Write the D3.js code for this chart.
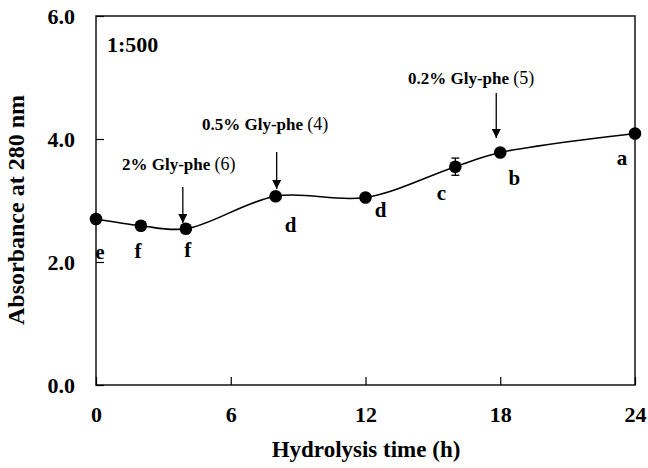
<!DOCTYPE html>
<html><head><meta charset="utf-8">
<script src="https://cdn.jsdelivr.net/npm/d3@7"></script>
<style>body{margin:0;background:#fff}</style>
</head><body>
<svg id="c" width="648" height="468"></svg>
<script>
const hours = [0, 2, 4, 8, 12, 16, 18, 24];
const absorbance = [2.70, 2.59, 2.54, 3.07, 3.05, 3.55, 3.78, 4.09];
const errors = [0, 0, 0, 0, 0, 0.14, 0, 0];
const letters = ["e", "f", "f", "d", "d", "c", "b", "a"];
const letterOffsets = [[4, 40], [-3, 32], [2, 28], [15, 36], [15, 20], [-14, 33], [14, 32], [-13, 32]];
const xTicks = [0, 6, 12, 18, 24];
const yTicks = [0, 2, 4, 6];
const annotations = [
  {x: 4, label: "2% Gly-phe", num: "(6)", tx: 122, ty: 170, dx: -3, y1: 187, y2: 223},
  {x: 8, label: "0.5% Gly-phe", num: "(4)", tx: 202, ty: 130, dx: 1, y1: 152, y2: 189},
  {x: 18, label: "0.2% Gly-phe", num: "(5)", tx: 408, ty: 84, dx: -4, y1: 93, y2: 138}
];

const svg = d3.select("#c");
const L = 96, R = 635, T = 16, B = 385;
const x = d3.scaleLinear().domain([0, 24]).range([L, R]);
const y = d3.scaleLinear().domain([0, 6]).range([B, T]);
const font = "'Liberation Serif', 'Times New Roman', serif";

svg.append("rect").attr("x", L).attr("y", T).attr("width", R - L).attr("height", B - T)
  .attr("fill", "none").attr("stroke", "#222").attr("stroke-width", 1.6);

const gx = svg.append("g").attr("transform", `translate(0,${B})`)
  .call(d3.axisTop(x).tickValues(xTicks).tickSize(8).tickFormat(d3.format("d")));
gx.select(".domain").remove();
gx.selectAll("line").attr("stroke-width", 1.2);
gx.selectAll("text").attr("y", 37).attr("dy", "0").style("font-family", font)
  .style("font-weight", "bold").style("font-size", "22px").attr("fill", "#000");

const gy = svg.append("g").attr("transform", `translate(${L},0)`)
  .call(d3.axisRight(y).tickValues(yTicks).tickSize(8).tickFormat(d3.format(".1f")));
gy.select(".domain").remove();
gy.selectAll("line").attr("stroke-width", 1.2);
gy.selectAll("text").attr("x", -21).attr("text-anchor", "end").style("font-family", font)
  .style("font-weight", "bold").style("font-size", "22px").attr("fill", "#000");

svg.append("text").attr("x", 366).attr("y", 457).attr("text-anchor", "middle")
  .style("font-family", font).style("font-weight", "bold").style("font-size", "23px")
  .text("Hydrolysis time (h)");
svg.append("text").attr("transform", "translate(24,210) rotate(-90)").attr("text-anchor", "middle")
  .style("font-family", font).style("font-weight", "bold").style("font-size", "24px")
  .text("Absorbance at 280 nm");
svg.append("text").attr("x", 107).attr("y", 52)
  .style("font-family", font).style("font-weight", "bold").style("font-size", "22px").text("1:500");

const data = hours.map((h, i) => ({h, v: absorbance[i], e: errors[i], l: letters[i], o: letterOffsets[i]}));

svg.append("path").datum(data)
  .attr("d", d3.line().x(d => x(d.h)).y(d => y(d.v)).curve(d3.curveCatmullRom.alpha(0.5)))
  .attr("fill", "none").attr("stroke", "#000").attr("stroke-width", 1.6);

data.filter(d => d.e > 0).forEach(d => {
  const g = svg.append("g").attr("stroke", "#000").attr("stroke-width", 1.3);
  g.append("line").attr("x1", x(d.h)).attr("x2", x(d.h)).attr("y1", y(d.v + d.e)).attr("y2", y(d.v - d.e));
  g.append("line").attr("x1", x(d.h) - 4).attr("x2", x(d.h) + 4).attr("y1", y(d.v + d.e)).attr("y2", y(d.v + d.e));
  g.append("line").attr("x1", x(d.h) - 4).attr("x2", x(d.h) + 4).attr("y1", y(d.v - d.e)).attr("y2", y(d.v - d.e));
});

svg.selectAll("circle.pt").data(data).enter().append("circle")
  .attr("cx", d => x(d.h)).attr("cy", d => y(d.v)).attr("r", 6.3).attr("fill", "#000");

svg.selectAll("text.lt").data(data).enter().append("text")
  .attr("x", d => x(d.h) + d.o[0]).attr("y", d => y(d.v) + d.o[1]).attr("text-anchor", "middle")
  .style("font-family", font).style("font-weight", "bold").style("font-size", "21px")
  .text(d => d.l);

svg.append("defs").append("marker").attr("id", "ah").attr("viewBox", "0 0 10 10")
  .attr("refX", 10).attr("refY", 5).attr("markerWidth", 10).attr("markerHeight", 9)
  .attr("markerUnits", "userSpaceOnUse").attr("orient", "auto")
  .append("path").attr("d", "M0,0 L10,5 L0,10 Z").attr("fill", "#000");

annotations.forEach(a => {
  const t = svg.append("text").attr("x", a.tx).attr("y", a.ty).attr("xml:space", "preserve")
    .style("font-family", font).style("font-size", "17px");
  t.append("tspan").style("font-weight", "bold").text(a.label + " ");
  t.append("tspan").style("font-size", "18px").text(a.num);
  svg.append("line").attr("x1", x(a.x) + a.dx).attr("x2", x(a.x) + a.dx).attr("y1", a.y1).attr("y2", a.y2)
    .attr("stroke", "#000").attr("stroke-width", 1.3).attr("marker-end", "url(#ah)");
});
</script>
</body></html>
